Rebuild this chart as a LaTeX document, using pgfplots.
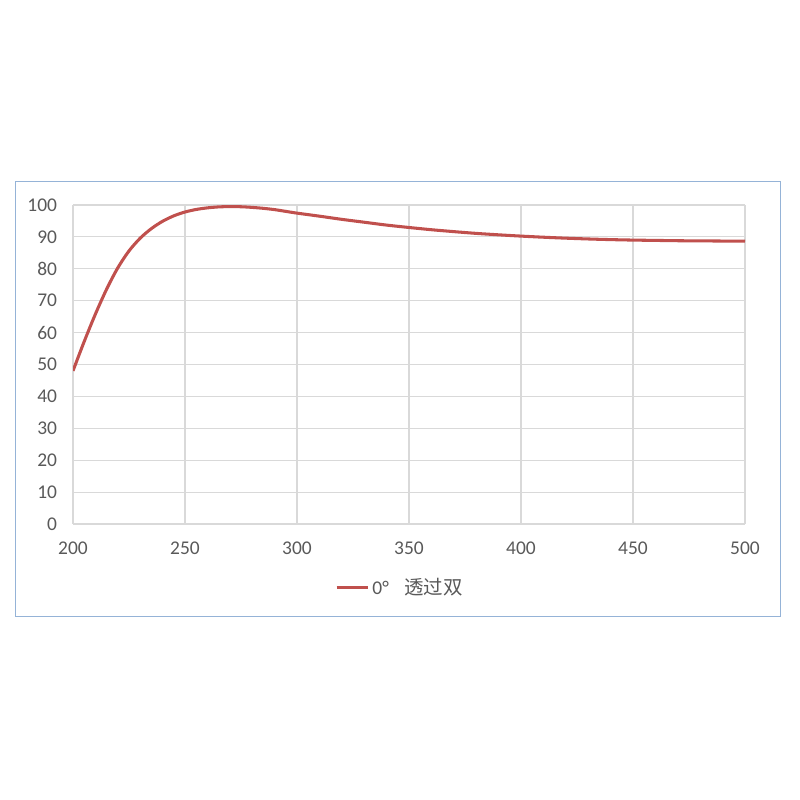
\documentclass[border=0pt]{standalone}
\usepackage{pgfplots}
\pgfplotsset{compat=1.18}
\usepackage{fontspec}
\setmainfont{Carlito}
\newfontfamily\cjk{Noto Sans CJK SC}
\definecolor{curve}{RGB}{192,80,77}
\definecolor{gridc}{RGB}{217,217,217}
\definecolor{framec}{RGB}{149,179,215}
\definecolor{tickc}{RGB}{89,89,89}
\begin{document}
\begin{tikzpicture}[x=0.72pt,y=0.72pt]
  \path[use as bounding box] (0,0) rectangle (800,800);
  \draw[framec, line width=1.2pt] (15.5,183.5) rectangle (780.5,618.5);
  \begin{axis}[
      at={(52.56pt,198.72pt)}, anchor=south west,
      scale only axis,
      width=483.84pt, height=229.68pt,
      xmin=200, xmax=500,
      ymin=0, ymax=100,
      xtick={200,250,...,500},
      ytick={0,10,...,100},
      grid=major,
      grid style={gridc, line width=0.8pt},
      axis line style={draw=none},
      tick style={draw=none},
      ticklabel style={font=\fontsize{14}{16}\selectfont, text=tickc},
      /pgf/number format/assume math mode=true,
      xticklabel style={yshift=-9pt},
      yticklabel style={xshift=-8pt},
      legend style={at={(0.487,-0.2)}, anchor=center, draw=none,
        font=\fontsize{14}{16}\selectfont, text=tickc},
      legend image code/.code={\draw[#1, line width=2.2pt] (0,0) -- (0.8cm,0);},
    ]
    \addplot[curve, line width=2.2pt, smooth] coordinates {
      (200,48.0) (205,57.2) (210,65.8) (215,73.6) (220,80.3) (225,85.6)
      (230,89.6) (235,92.6) (240,94.9) (245,96.6) (250,97.8) (255,98.6)
      (260,99.1) (265,99.4) (270,99.5) (275,99.45) (280,99.25) (285,98.95)
      (290,98.55) (295,98.0) (300,97.45) (310,96.5) (320,95.5) (330,94.6)
      (340,93.7) (350,92.95) (360,92.25) (370,91.65) (380,91.1) (390,90.65)
      (400,90.25) (410,89.9) (420,89.6) (430,89.35) (440,89.15) (450,89.0)
      (460,88.9) (470,88.8) (480,88.75) (490,88.7) (500,88.65)
    };
    \addlegendentry{0°\hspace{0.8em}{\cjk 透过双}}
  \end{axis}
\end{tikzpicture}
\end{document}
